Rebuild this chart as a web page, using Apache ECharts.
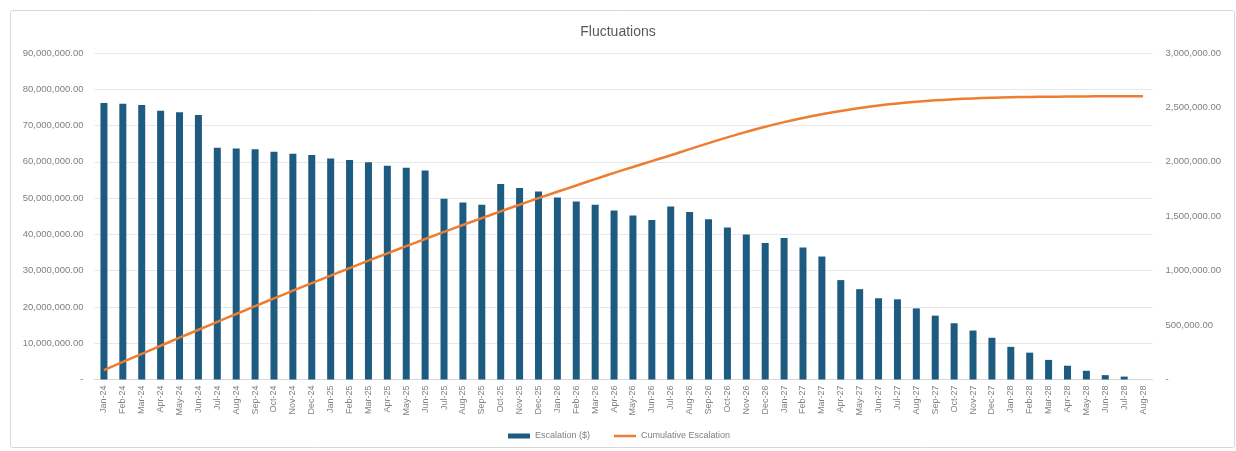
<!DOCTYPE html>
<html>
<head>
<meta charset="utf-8">
<script src="https://cdn.jsdelivr.net/npm/echarts@6/dist/echarts.min.js"></script>
<style>
html,body{margin:0;padding:0;background:#fff;}
#c{width:1236px;height:451px;}
</style>
</head>
<body>
<div id="c"></div>
<script>
const categories = ["Jan-24","Feb-24","Mar-24","Apr-24","May-24","Jun-24","Jul-24","Aug-24","Sep-24","Oct-24","Nov-24","Dec-24",
"Jan-25","Feb-25","Mar-25","Apr-25","May-25","Jun-25","Jul-25","Aug-25","Sep-25","Oct-25","Nov-25","Dec-25",
"Jan-26","Feb-26","Mar-26","Apr-26","May-26","Jun-26","Jul-26","Aug-26","Sep-26","Oct-26","Nov-26","Dec-26",
"Jan-27","Feb-27","Mar-27","Apr-27","May-27","Jun-27","Jul-27","Aug-27","Sep-27","Oct-27","Nov-27","Dec-27",
"Jan-28","Feb-28","Mar-28","Apr-28","May-28","Jun-28","Jul-28","Aug-28"];

const escalation = [76200000,76000000,75700000,74100000,73700000,72900000,63900000,63700000,63500000,62800000,62200000,61900000,
60900000,60500000,59900000,58900000,58400000,57600000,49800000,48800000,48200000,53900000,52800000,51800000,
50200000,49100000,48200000,46600000,45200000,44000000,47700000,46200000,44200000,41900000,40000000,37600000,
39000000,36400000,33900000,27400000,24900000,22400000,22100000,19600000,17600000,15500000,13500000,11500000,
9000000,7400000,5400000,3800000,2400000,1200000,800000,0];

const cumulative = [87000,162000,236000,310000,384000,457000,530000,602000,674000,745000,816000,886000,
955000,1024000,1092000,1159000,1225000,1291000,1356000,1420000,1483000,1545000,1606000,1666000,
1725000,1783000,1841000,1898000,1953000,2007000,2060000,2117000,2172000,2225000,2275000,2322000,
2365000,2403000,2437000,2467000,2494000,2517000,2536000,2552000,2565000,2575000,2583000,2589000,
2593000,2596000,2598000,2600000,2601000,2602000,2602000,2602000];

const leftTicks = {min:0, max:90000000, interval:10000000};
const rightTicks = {min:0, max:3000000, interval:500000};

function fmt(v){
  if (v === 0) return '-';
  return v.toLocaleString('en-US',{minimumFractionDigits:2, maximumFractionDigits:2});
}

const chart = echarts.init(document.getElementById('c'), null, {renderer:'canvas'});
const labelColor = '#7f7f7f';
const font = 'Liberation Sans, Arial, sans-serif';
chart.setOption({
  backgroundColor:'#ffffff',
  animation:false,
  textStyle:{fontFamily:font},
  graphic:[{
    type:'rect', left:8, top:8, shape:{width:1224, height:437, r:2},
    style:{fill:'none', stroke:'#d9d9d9', lineWidth:1}, silent:true, z:-1
  }],
  title:{
    text:'Fluctuations', left:'center', top:20,
    textStyle:{fontSize:14, fontWeight:'normal', color:'#595959', fontFamily:font}
  },
  legend:[{
    top:430, left:508, padding:0, itemWidth:22, itemHeight:5, itemGap:4,
    textStyle:{fontSize:9, color:labelColor, lineHeight:12},
    data:[{name:'Escalation ($)', icon:'rect'}]
  },{
    top:430, left:614, padding:0, itemWidth:22, itemHeight:2.5, itemGap:4,
    textStyle:{fontSize:9, color:labelColor, lineHeight:12},
    data:[{name:'Cumulative Escalation', icon:'rect'}]
  }],
  grid:{left:94.5, right:83.5, top:53, bottom:71.5, containLabel:false},
  xAxis:{
    type:'category', data:categories,
    axisLine:{show:true, lineStyle:{color:'#d9d9d9'}},
    axisTick:{show:false},
    axisLabel:{rotate:90, fontSize:9, color:labelColor, interval:0, margin:6}
  },
  yAxis:[{
    type:'value', min:leftTicks.min, max:leftTicks.max, interval:leftTicks.interval,
    axisLine:{show:false}, axisTick:{show:false},
    splitLine:{lineStyle:{color:'#e8e8e8'}},
    axisLabel:{fontSize:9.5, color:labelColor, formatter:fmt, margin:11}
  },{
    type:'value', min:rightTicks.min, max:rightTicks.max, interval:rightTicks.interval,
    axisLine:{show:false}, axisTick:{show:false}, splitLine:{show:false},
    axisLabel:{fontSize:9.5, color:labelColor, formatter:fmt, margin:13}
  }],
  series:[{
    name:'Escalation ($)', type:'bar', data:escalation, yAxisIndex:0,
    barWidth:7, itemStyle:{color:'#1d5c80'}
  },{
    name:'Cumulative Escalation', type:'line', data:cumulative, yAxisIndex:1,
    symbol:'none', smooth:true, lineStyle:{color:'#ed7d31', width:2.5}, itemStyle:{color:'#ed7d31'}
  }]
});
</script>
</body>
</html>
